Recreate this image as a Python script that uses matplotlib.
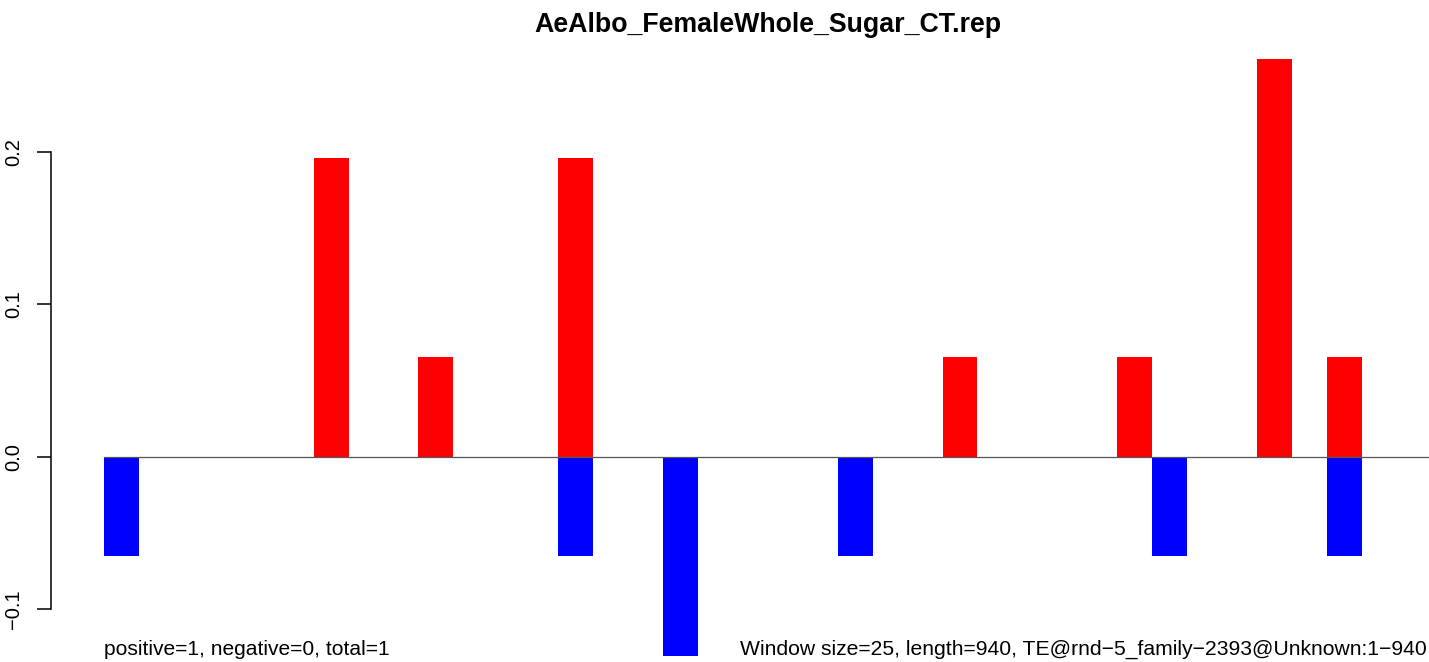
import matplotlib
matplotlib.use("Agg")
import matplotlib.pyplot as plt

plt.rcParams["font.family"] = ["Liberation Sans", "DejaVu Sans"]

# ---- data (window index 0..37, window size 25, length 940) ----
n_windows = 38
red_windows = [6, 9, 13, 24, 29, 33, 35]
red_values = [0.1957, 0.0652, 0.1957, 0.0652, 0.0652, 0.2609, 0.0652]
blue_windows = [0, 13, 16, 21, 30, 35]
blue_values = [-0.0652, -0.0652, -0.1304, -0.0652, -0.0652, -0.0652]
y_ticks = [-0.1, 0.0, 0.1, 0.2]
y_tick_labels = ["\u22120.1", "0.0", "0.1", "0.2"]

title = "AeAlbo_FemaleWhole_Sugar_CT.rep"
left_note = "positive=1, negative=0, total=1"
right_note = "Window size=25, length=940, TE@rnd\u22125_family\u22122393@Unknown:1\u2212940"

W, H = 1429, 662
DPI = 100

# pixel mapping
x0_px, bar_px = 104, 34.94     # left edge of window 0, width of one window
y0_px, unit_px = 456.7, 1525   # y pixel of 0.0, pixels per 1.0


def fx(px):
    return px / W


def fy(py):
    return 1 - py / H


fig = plt.figure(figsize=(W / DPI, H / DPI), dpi=DPI)
ax = fig.add_axes([0, 0, 1, 1])
ax.set_xlim(-x0_px / bar_px, (W - x0_px) / bar_px)
ax.set_ylim(-(H - y0_px) / unit_px, y0_px / unit_px)

ax.bar(red_windows, red_values, width=1, align="edge", color="#FF0000", linewidth=0)
ax.bar(blue_windows, blue_values, width=1, align="edge", color="#0000FF", linewidth=0)
ax.plot([0, n_windows + 2], [0, 0], color="#555555", linewidth=0.9, zorder=3)

for side in ["top", "right", "bottom"]:
    ax.spines[side].set_visible(False)
ax.spines["left"].set_position(("data", (51 - x0_px) / bar_px))
ax.spines["left"].set_bounds(y_ticks[0], y_ticks[-1])
ax.spines["left"].set_linewidth(1.1)
ax.set_xticks([])
ax.set_yticks(y_ticks)
ax.set_yticklabels(y_tick_labels, rotation=90, va="center", fontsize=14.5)
ax.tick_params(axis="y", length=10, width=1.1, pad=10)

fig.text(fx(768), fy(32), title, ha="center", va="baseline",
         fontsize=19.3, fontweight="bold")
fig.text(fx(104), fy(655), left_note, ha="left", va="baseline", fontsize=15.1)
fig.text(fx(740), fy(655), right_note, ha="left", va="baseline", fontsize=15.2)

fig.savefig("out.png", dpi=DPI)
